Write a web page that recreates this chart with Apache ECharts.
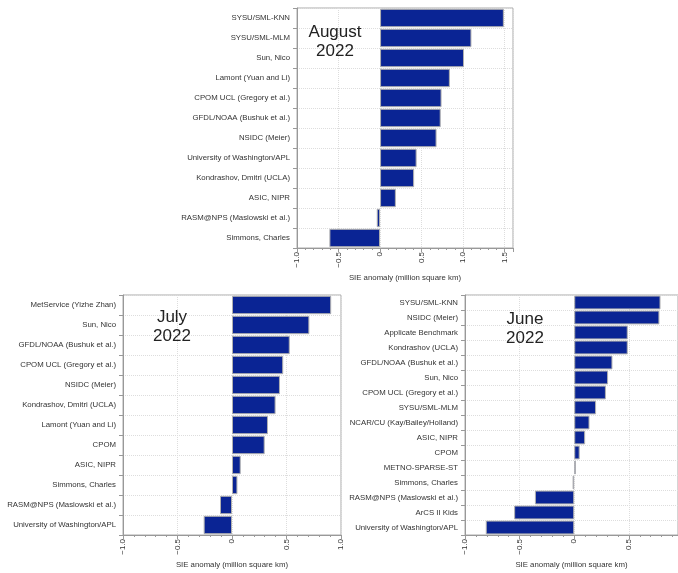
<!DOCTYPE html>
<html>
<head>
<meta charset="utf-8">
<script src="https://cdn.jsdelivr.net/npm/echarts@6/dist/echarts.min.js"></script>
<style>
  html, body { margin: 0; padding: 0; background: #fff; }
  #main { width: 678px; height: 573px; }
</style>
</head>
<body>
<div id="main"></div>
<script>
// August 2022
const augNames = ['SYSU/SML-KNN', 'SYSU/SML-MLM', 'Sun, Nico', 'Lamont (Yuan and Li)',
  'CPOM UCL (Gregory et al.)', 'GFDL/NOAA (Bushuk et al.)', 'NSIDC (Meier)',
  'University of Washington/APL', 'Kondrashov, Dmitri (UCLA)', 'ASIC, NIPR',
  'RASM@NPS (Maslowski et al.)', 'Simmons, Charles']
const augValues = [1.49, 1.10, 1.01, 0.84, 0.74, 0.73, 0.68, 0.44, 0.41, 0.19, -0.04, -0.61]

// July 2022
const julNames = ['MetService (Yizhe Zhan)', 'Sun, Nico', 'GFDL/NOAA (Bushuk et al.)',
  'CPOM UCL (Gregory et al.)', 'NSIDC (Meier)', 'Kondrashov, Dmitri (UCLA)',
  'Lamont (Yuan and Li)', 'CPOM', 'ASIC, NIPR', 'Simmons, Charles',
  'RASM@NPS (Maslowski et al.)', 'University of Washington/APL']
const julValues = [0.91, 0.71, 0.53, 0.47, 0.44, 0.40, 0.33, 0.30, 0.08, 0.05, -0.11, -0.26]

// June 2022
const junNames = ['SYSU/SML-KNN', 'NSIDC (Meier)', 'Applicate Benchmark', 'Kondrashov (UCLA)',
  'GFDL/NOAA (Bushuk et al.)', 'Sun, Nico', 'CPOM UCL (Gregory et al.)', 'SYSU/SML-MLM',
  'NCAR/CU (Kay/Bailey/Holland)', 'ASIC, NIPR', 'CPOM', 'METNO-SPARSE-ST',
  'Simmons, Charles', 'RASM@NPS (Maslowski et al.)', 'ArCS II Kids',
  'University of Washington/APL']
const junValues = [0.79, 0.78, 0.49, 0.49, 0.35, 0.31, 0.29, 0.20, 0.14, 0.10, 0.05, 0.015,
  -0.015, -0.36, -0.55, -0.81]

const axisTitle = 'SIE anomaly (million square km)'
const barColor = '#0a2494'
const font = 'Liberation Sans, Arial, sans-serif'

const myChart = echarts.init(document.getElementById('main'))

// tick labels use a real minus sign
function fmt(v) {
  if (v === 0) return '0'
  return v.toFixed(1).replace('-', '\u2212')
}

function xAxisFor(idx, max) {
  return {
    gridIndex: idx,
    type: 'value',
    min: -1,
    max: max,
    interval: 0.5,
    name: axisTitle,
    nameLocation: 'middle',
    nameGap: 26,
    nameTextStyle: { fontSize: 7.8, color: '#333', fontFamily: font },
    axisLine: { show: true, lineStyle: { color: '#999' } },
    axisTick: { show: true, length: 4, lineStyle: { color: '#999' } },
    minorTick: { show: true, splitNumber: 5, length: 2, lineStyle: { color: '#999' } },
    axisLabel: {
      rotate: 90, fontSize: 8, color: '#333', fontFamily: font, margin: 4,
      showMaxLabel: max === 1 ? true : false,
      formatter: fmt
    },
    splitLine: { show: true, lineStyle: { color: '#ddd', type: 'dotted' } }
  }
}

function yAxisFor(idx, names) {
  return {
    gridIndex: idx,
    type: 'category',
    inverse: true,
    data: names,
    axisLine: { show: true, onZero: false, lineStyle: { color: '#999' } },
    axisTick: { show: true, length: 4, lineStyle: { color: '#999' } },
    axisLabel: { fontSize: 7.8, color: '#333', fontFamily: font, margin: 7 },
    splitLine: { show: true, lineStyle: { color: '#ddd', type: 'dotted' } }
  }
}

function seriesFor(idx, values) {
  return {
    type: 'bar',
    xAxisIndex: idx,
    yAxisIndex: idx,
    data: values,
    barCategoryGap: '8%',
    itemStyle: { color: barColor, borderColor: '#b0b0b0', borderWidth: 1 },
    animation: false
  }
}

function titleFor(text, x, y) {
  return {
    text: text,
    left: x,
    top: y,
    textAlign: 'center',
    textStyle: { fontSize: 17, fontWeight: 'normal', color: '#222', lineHeight: 19, fontFamily: font }
  }
}

myChart.setOption({
  animation: false,
  title: [
    titleFor('August\n2022', 330, 18),
    titleFor('July\n2022', 167, 303),
    titleFor('June\n2022', 520, 305)
  ],
  grid: [
    { left: 297, top: 8, width: 216, height: 240, show: true, borderColor: '#aaa' },
    { left: 123, top: 295, width: 218, height: 240, show: true, borderColor: '#aaa' },
    { left: 465, top: 295, width: 213, height: 240, show: true, borderColor: '#aaa' }
  ],
  xAxis: [xAxisFor(0, 1.6), xAxisFor(1, 1), xAxisFor(2, 0.95)],
  yAxis: [yAxisFor(0, augNames), yAxisFor(1, julNames), yAxisFor(2, junNames)],
  series: [seriesFor(0, augValues), seriesFor(1, julValues), seriesFor(2, junValues)]
})
</script>
</body>
</html>
